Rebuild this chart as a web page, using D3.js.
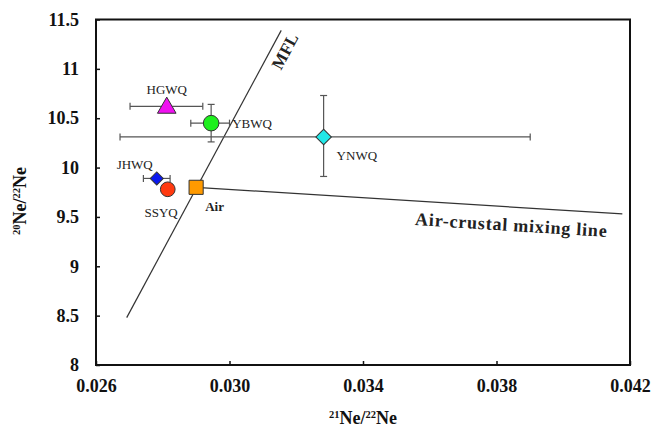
<!DOCTYPE html>
<html>
<head>
<meta charset="utf-8">
<script src="https://cdn.jsdelivr.net/npm/d3@7"></script>
<style>
  body { margin: 0; background: #fff; }
  svg { display: block; }
  text { font-family: "Liberation Serif", "Times New Roman", serif; }
</style>
</head>
<body>
<svg id="chart" width="651" height="429"></svg>
<script>
// Neon isotope samples: 21Ne/22Ne vs 20Ne/22Ne
const samples = ["HGWQ", "YBWQ", "YNWQ", "JHWQ", "SSYQ", "Air"];
const ne21 = [0.02812, 0.02945, 0.03282, 0.02782, 0.02815, 0.0290];
const ne20 = [10.62, 10.45, 10.31, 9.89, 9.78, 9.80];
const ne21Low = [0.02702, 0.02884, 0.02672, 0.02742, null, null];
const ne21High = [0.02920, 0.03000, 0.03901, 0.02822, null, null];
const ne20Low = [null, 10.26, 9.91, null, null, null];
const ne20High = [null, 10.64, 10.73, null, null, null];
const shapes = ["triangle", "circle", "diamond", "diamond", "circle", "square"];
const colors = ["#f010f0", "#1ef01e", "#22e8e8", "#0a18f0", "#ff3a10", "#ff9a00"];

// Reference lines
const mflLine = [[0.02692, 8.48], [0.03155, 11.39]];
const mixingLine = [[0.0290, 9.80], [0.04177, 9.53]];

const xTicks = [0.026, 0.030, 0.034, 0.038, 0.042];
const yTicks = [8, 8.5, 9, 9.5, 10, 10.5, 11, 11.5];

const svg = d3.select("#chart");
const margin = { left: 96, right: 21, top: 19.5, bottom: 64 };
const W = 651, H = 429;

const x = d3.scaleLinear().domain([0.026, 0.042]).range([margin.left, W - margin.right]);
const y = d3.scaleLinear().domain([8, 11.5]).range([H - margin.bottom, margin.top]);

// Axes with inward ticks
const xAxis = d3.axisBottom(x).tickValues(xTicks).tickFormat(d3.format(".3f"))
  .tickSizeInner(-4).tickSizeOuter(0).tickPadding(14);
const yAxis = d3.axisLeft(y).tickValues(yTicks).tickFormat(d => d3.format("")(d))
  .tickSizeInner(-4).tickSizeOuter(0).tickPadding(17);

const gx = svg.append("g").attr("transform", `translate(0,${y(8)})`).call(xAxis);
const gy = svg.append("g").attr("transform", `translate(${x(0.026)},0)`).call(yAxis);
[gx, gy].forEach(g => {
  g.select(".domain").remove();
  g.selectAll(".tick line").attr("stroke", "#111").attr("stroke-width", 1.5);
  g.selectAll(".tick text").attr("fill", "#111").attr("font-size", 18)
    .attr("font-weight", "bold").attr("font-family", "Liberation Serif, serif");
});

// Frame
svg.append("rect")
  .attr("x", x(0.026)).attr("y", y(11.5))
  .attr("width", x(0.042) - x(0.026)).attr("height", y(8) - y(11.5))
  .attr("fill", "none").attr("stroke", "#111").attr("stroke-width", 2);

// Axis titles
const xt = svg.append("text").attr("x", x(0.034)).attr("y", 424)
  .attr("text-anchor", "middle").attr("font-size", 18).attr("font-weight", "bold").attr("fill", "#111");
xt.append("tspan").attr("font-size", 10.5).attr("dy", -6).text("21");
xt.append("tspan").attr("dy", 6).text("Ne/");
xt.append("tspan").attr("font-size", 10.5).attr("dy", -6).text("22");
xt.append("tspan").attr("dy", 6).text("Ne");

const yt = svg.append("text").attr("transform", "translate(26,201) rotate(-90)")
  .attr("text-anchor", "middle").attr("font-size", 18).attr("font-weight", "bold").attr("fill", "#111");
yt.append("tspan").attr("font-size", 10.5).attr("dy", -6).text("20");
yt.append("tspan").attr("dy", 6).text("Ne/");
yt.append("tspan").attr("font-size", 10.5).attr("dy", -6).text("22");
yt.append("tspan").attr("dy", 6).text("Ne");

const line = d3.line().x(d => x(d[0])).y(d => y(d[1]));

// MFL and air-crustal mixing line
svg.append("path").attr("d", line(mflLine)).attr("fill", "none").attr("stroke", "#333").attr("stroke-width", 1.2);
svg.append("path").attr("d", line(mixingLine)).attr("fill", "none").attr("stroke", "#333").attr("stroke-width", 1.2);

// Line labels
const mflAngle = Math.atan2(y(mflLine[1][1]) - y(mflLine[0][1]), x(mflLine[1][0]) - x(mflLine[0][0])) * 180 / Math.PI;
svg.append("text")
  .attr("transform", `translate(290,54) rotate(${mflAngle})`)
  .attr("text-anchor", "middle").attr("font-size", 17).attr("font-weight", "bold")
  .attr("fill", "#222").text("MFL");

const mixAngle = Math.atan2(y(mixingLine[1][1]) - y(mixingLine[0][1]), x(mixingLine[1][0]) - x(mixingLine[0][0])) * 180 / Math.PI;
svg.append("text")
  .attr("transform", `translate(511,231) rotate(${mixAngle})`)
  .attr("text-anchor", "middle").attr("font-size", 18).attr("font-weight", "bold")
  .attr("letter-spacing", 0.8)
  .attr("fill", "#222").text("Air-crustal mixing line");

// Error bars
const cap = 3.5;
const eb = svg.append("g").attr("stroke", "#555").attr("stroke-width", 1.2).attr("fill", "none");
samples.forEach((s, i) => {
  if (ne21Low[i] != null) {
    const yy = y(ne20[i]);
    eb.append("line").attr("x1", x(ne21Low[i])).attr("x2", x(ne21High[i])).attr("y1", yy).attr("y2", yy);
    [ne21Low[i], ne21High[i]].forEach(v =>
      eb.append("line").attr("x1", x(v)).attr("x2", x(v)).attr("y1", yy - cap).attr("y2", yy + cap));
  }
  if (ne20Low[i] != null) {
    const xx = x(ne21[i]);
    eb.append("line").attr("x1", xx).attr("x2", xx).attr("y1", y(ne20Low[i])).attr("y2", y(ne20High[i]));
    [ne20Low[i], ne20High[i]].forEach(v =>
      eb.append("line").attr("x1", xx - cap).attr("x2", xx + cap).attr("y1", y(v)).attr("y2", y(v)));
  }
});

// Markers (diamonds are squares turned 45 degrees)
const symbolFor = { triangle: d3.symbolTriangle, circle: d3.symbolCircle, diamond: d3.symbolSquare, square: d3.symbolSquare };
const sizeFor = [150, 190, 120, 85, 170, 200];
samples.forEach((s, i) => {
  const rot = shapes[i] === "diamond" ? 45 : 0;
  svg.append("path")
    .attr("d", d3.symbol().type(symbolFor[shapes[i]]).size(sizeFor[i])())
    .attr("transform", `translate(${x(ne21[i])},${y(ne20[i]) + (shapes[i] === "triangle" ? 1.5 : 0)}) rotate(${rot})`)
    .attr("fill", colors[i]).attr("stroke", "#333").attr("stroke-width", 1);
});

// Sample labels
const labelPos = {
  HGWQ: { dx: 0, dy: -12, anchor: "middle", bold: false },
  YBWQ: { dx: 21, dy: 5, anchor: "start", bold: false },
  YNWQ: { dx: 13, dy: 23, anchor: "start", bold: false },
  JHWQ: { dx: -4, dy: -9, anchor: "end", bold: false },
  SSYQ: { dx: 10, dy: 28, anchor: "end", bold: false },
  Air: { dx: 9, dy: 24, anchor: "start", bold: true }
};
samples.forEach((s, i) => {
  const p = labelPos[s];
  svg.append("text")
    .attr("x", x(ne21[i]) + p.dx).attr("y", y(ne20[i]) + p.dy)
    .attr("text-anchor", p.anchor)
    .attr("font-size", 13).attr("font-weight", p.bold ? "bold" : "normal")
    .attr("fill", "#222").text(s);
});
</script>
</body>
</html>
